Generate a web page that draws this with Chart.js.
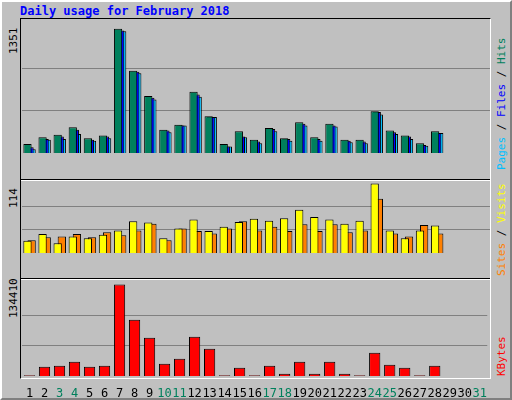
<!DOCTYPE html>
<html><head><meta charset="utf-8">
<script src="https://cdn.jsdelivr.net/npm/chart.js@4"></script>
<style>
body{margin:0;width:512px;height:400px;overflow:hidden;background:#fff}
#frame{position:absolute;left:0;top:0;width:508px;height:396px;background:#C0C0C0;border:2px solid;border-color:#fff #808080 #808080 #fff}
.t{position:absolute;font-family:"DejaVu Sans Mono",monospace;font-size:11px;white-space:nowrap}
.rot{transform-origin:0 0;transform:rotate(-90deg)}
canvas{position:absolute}
.box{position:absolute;border:1px solid;border-color:#000 #fff #fff #000}
</style></head><body>
<div id="frame"></div>
<div class="t" style="left:20px;top:4px;color:#0000FF;font-weight:bold;font-size:12px">Daily usage for February 2018</div>
<div class="box" style="left:20px;top:18px;width:469px;height:359px"></div>
<div style="position:absolute;left:21px;top:179px;width:469px;height:1px;background:#000"></div>
<div style="position:absolute;left:21px;top:180px;width:469px;height:1px;background:#fff"></div>
<div style="position:absolute;left:21px;top:278px;width:469px;height:1px;background:#000"></div>
<div style="position:absolute;left:21px;top:279px;width:469px;height:1px;background:#fff"></div>
<div class="t rot" style="left:7px;top:54px">1351</div>
<div class="t rot" style="left:7px;top:208px">114</div>
<div class="t rot" style="left:7px;top:318px">134410</div>
<div class="t rot" style="left:495px;top:170px"><span style="color:#00C0FF">Pages</span><span style="color:#000"> / </span><span style="color:#0000FF">Files</span><span style="color:#000"> / </span><span style="color:#00805C">Hits</span></div>
<div class="t rot" style="left:495px;top:276px"><span style="color:#FF8000">Sites</span><span style="color:#000"> / </span><span style="color:#FFFF00">Visits</span></div>
<div class="t rot" style="left:495px;top:376px"><span style="color:#FF0000">KBytes</span></div>
<canvas id="c1" width="468" height="157" style="left:22px;top:20px"></canvas>
<canvas id="c2" width="468" height="96" style="left:22px;top:181px"></canvas>
<canvas id="c3" width="468" height="120" style="left:22px;top:280px"></canvas>
<script>
const days = ['1','2','3','4','5','6','7','8','9','10','11','12','13','14','15','16','17','18','19','20','21','22','23','24','25','26','27','28','29','30','31'];
const weekend = ['3','4','10','11','17','18','24','25','31'];
const hits  = [96,167,194,274,158,185,1321,874,605,248,301,650,391,96,230,140,265,158,328,167,310,140,140,444,239,185,104,230,0,0,0];
const files = [60,149,176,248,140,176,1303,865,588,239,292,623,382,69,176,122,256,149,310,149,292,131,122,435,221,176,86,212,0,0,0];
const pages = [39,140,149,203,131,158,1294,847,570,221,292,597,382,69,167,104,230,131,292,131,283,113,104,408,203,149,78,212,0,0,0];
const visits = [20,31,16,27,24,30,37,52,50,24,40,55,36,43,51,56,53,57,71,59,55,48,53,114,37,24,37,45,0,0,0];
const sites  = [21,26,27,31,26,34,29,37,48,21,40,36,32,40,52,37,43,36,47,36,47,34,37,89,32,27,46,32,0,0,0];
const kbytes = [1000,13735,15207,21093,13735,15207,134410,82903,56414,18150,25508,57885,40225,1000,12264,1000,15207,3434,21093,3434,21093,3434,1000,34339,16679,12264,1000,15207,0,0,0];

Chart.defaults.animation = false;
Chart.defaults.devicePixelRatio = 1;

function panel(id, sets, max, grid, showX, catPct, barPct) {
  new Chart(document.getElementById(id), {
    type: 'bar',
    data: {
      labels: days,
      datasets: sets.map(s => ({
        data: s.data, backgroundColor: s.color, borderColor: '#000', borderWidth: 1,
        categoryPercentage: catPct, barPercentage: barPct
      }))
    },
    options: {
      responsive: false, maintainAspectRatio: false,
      layout: { padding: 0 },
      plugins: { legend: { display: false }, tooltip: { enabled: false } },
      scales: {
        x: {
          display: showX,
          grid: { display: false },
          border: { display: false },
          ticks: {
            autoSkip: false, maxRotation: 0, padding: 3,
            font: { family: 'DejaVu Sans Mono', size: 12 },
            color: ctx => weekend.includes(days[ctx.index]) ? '#00805C' : '#000'
          },
          afterFit: s => { s.height = 24; }
        },
        y: {
          display: true, min: 0, max: max,
          afterBuildTicks: s => { s.ticks = grid.map(v => ({ value: v })); },
          ticks: { display: false },
          border: { display: false },
          grid: { color: '#808080', lineWidth: 1, drawTicks: false },
          afterFit: s => { s.width = 0; }
        }
      }
    }
  });
}

panel('c1', [
  { data: hits, color: '#00805C' },
  { data: files, color: '#0000FF' },
  { data: pages, color: '#00C0FF' }
], 1414, [450, 900], false, 0.41, 4);
panel('c2', [
  { data: visits, color: '#FFFF00' },
  { data: sites, color: '#FF8000' }
], 118, [38, 76], false, 0.55, 2);
panel('c3', [
  { data: kbytes, color: '#FF0000' }
], 141200, [44803, 89606], true, 0.75, 1);
</script>
</body></html>
